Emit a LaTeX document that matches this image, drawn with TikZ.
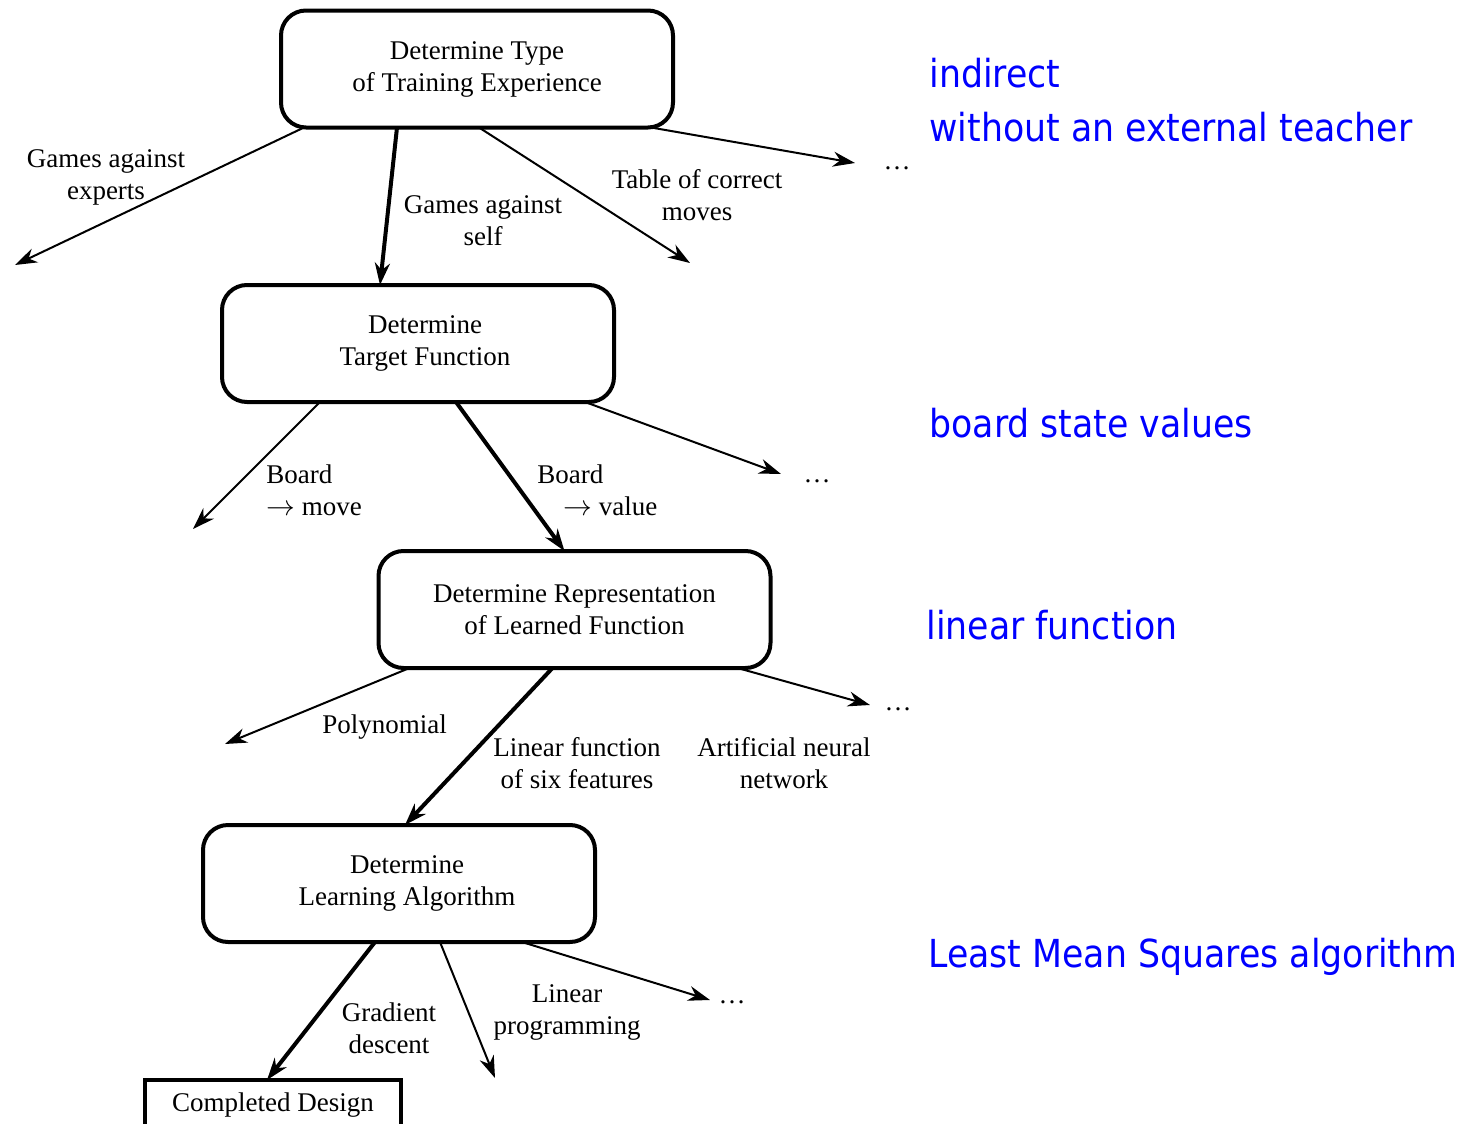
\documentclass[tikz,border=0pt]{standalone}
\usepackage{fontspec}
\setmainfont{Liberation Serif}
\newfontfamily\bluefont[FakeStretch=0.9]{DejaVu Sans}
\usetikzlibrary{arrows.meta,calc}
\begin{document}
\begin{tikzpicture}[x=0.5pt,y=-0.5pt,
  lbl/.style={font=\fontsize{13.5}{16}\selectfont, inner sep=0pt, align=center},
  box/.style={lbl, draw, line width=2pt, outer sep=0pt, rounded corners=12.5pt, minimum width=196pt, minimum height=58.5pt},
  finalbox/.style={lbl, draw, line width=2pt, outer sep=0pt, minimum width=128pt, minimum height=25pt},
  thinarr/.style={line width=1pt, -{Stealth[length=11pt,width=7.5pt,inset=3.5pt]}},
  thickarr/.style={line width=2pt, -{Stealth[length=11pt,width=7.5pt,inset=3.5pt]}},
  note/.style={font=\bluefont\fontsize{19.3}{23}\selectfont, text=blue, anchor=base west, inner sep=0pt},
  dots/.style={lbl, anchor=base}]
\useasboundingbox (0,0) rectangle (1468,1124);
\clip (0,0) rectangle (1468,1124);

% boxes
\node[box] (b1) at (477,69) {Determine Type\\of Training Experience};
\node[box] (b2) at (418,343.5) {\hspace*{7pt}Determine\\\hspace*{7pt}Target Function};
\node[box] (b3) at (574.5,609.5) {Determine Representation\\of Learned Function};
\node[box] (b4) at (399,883.5) {\hspace*{8pt}Determine\\\hspace*{8pt}Learning Algorithm};
\node[finalbox] (b5) at (273,1105) {Completed Design};

% free ends
\coordinate (e1a) at (15,265);
\coordinate (e1c) at (690,263);
\coordinate (e1d) at (855,163);
\coordinate (e2a) at (193,529);
\coordinate (e2c) at (781,474);
\coordinate (e3a) at (225,744);
\coordinate (e3c) at (870,705);
\coordinate (e4b) at (495,1078);
\coordinate (e4c) at (710,1000);

% connectors from b1
\draw[thinarr] ($(b1.south west)+(23,0)$) -- (e1a);
\draw[thickarr] ($(b1.south west)+(116,0)$) -- ($(b2.north west)+(158,0)$);
\draw[thinarr] ($(b1.south west)+(198,0)$) -- (e1c);
\draw[thinarr] ($(b1.south west)+(370,0)$) -- (e1d);
% from b2
\draw[thinarr] ($(b2.south west)+(98,0)$) -- (e2a);
\draw[thickarr] ($(b2.south west)+(234,0)$) -- ($(b3.north west)+(186,0)$);
\draw[thinarr] ($(b2.south west)+(363,0)$) -- (e2c);
% from b3
\draw[thinarr] ($(b3.south west)+(31,0)$) -- (e3a);
\draw[thickarr] ($(b3.south west)+(174,0)$) -- ($(b4.north west)+(202,0)$);
\draw[thinarr] ($(b3.south west)+(359,0)$) -- (e3c);
% from b4
\draw[thickarr] ($(b4.south west)+(172,0)$) -- ($(b5.north west)+(122,0)$);
\draw[thinarr] ($(b4.south west)+(237,0)$) -- (e4b);
\draw[thinarr] ($(b4.south west)+(319,0)$) -- (e4c);

% labels
\node[lbl] (l1) at (106,177) {Games against\\experts};
\node[lbl] (l2) at (483,221) {Games against\\self};
\node[lbl] (l3) at (697,195) {Table of correct\\moves};
\node[lbl, align=left, anchor=west] (l4) at (266,490) {Board\\$\rightarrow$ move};
\node[lbl, align=left, anchor=west] (l5) at (537,490) {Board\\\hspace*{13pt}$\rightarrow$ value};
\node[lbl, anchor=base] (l6) at (384.5,733) {Polynomial};
\node[lbl] (l7) at (577,763) {Linear function\\of six features};
\node[lbl] (l8) at (784,763) {Artificial neural\\network};
\node[lbl] (l9) at (389,1028) {Gradient\\descent};
\node[lbl] (l10) at (567,1012) {Linear\\programming};

% dots
\node[dots] (d1) at (897,169) {…};
\node[dots] (d2) at (817,482) {…};
\node[dots] (d3) at (898,710) {…};
\node[dots] (d4) at (732,1003) {…};

% blue notes
\node[note] (n1) at (929,87) {indirect};
\node[note] (n2) at (929,141) {without an external teacher};
\node[note] (n3) at (929,437) {board state values};
\node[note] (n4) at (926,639) {linear function};
\node[note] (n5) at (928,967) {Least Mean Squares algorithm};
\end{tikzpicture}
\end{document}
